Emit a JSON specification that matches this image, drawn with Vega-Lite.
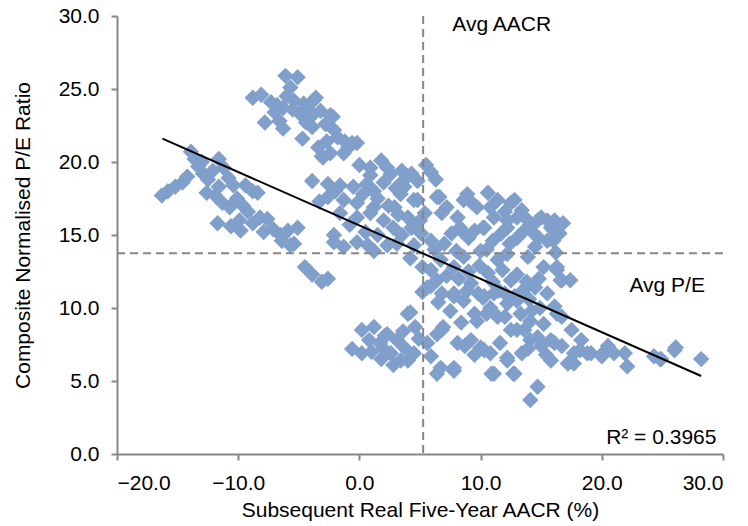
{
  "$schema": "https://vega.github.io/schema/vega-lite/v6.json",
  "width": 606,
  "height": 438,
  "autosize": "none",
  "padding": {"left": 117, "top": 16, "right": 25, "bottom": 72},
  "background": "white",
  "config": {
    "view": {"stroke": null},
    "font": "Liberation Sans",
    "axis": {
      "grid": false,
      "domainColor": "#868686",
      "domainWidth": 2,
      "tickColor": "#868686",
      "tickWidth": 2,
      "tickSize": 6,
      "labelFont": "Liberation Sans",
      "labelFontSize": 21,
      "labelColor": "#000000",
      "labelPadding": 12,
      "titleFont": "Liberation Sans",
      "titleFontSize": 21,
      "titleFontWeight": "normal",
      "titleColor": "#000000"
    }
  },
  "datasets": {
    "points": [
      {"aacr":-16.3,"pe":17.7},{"aacr":-15.8,"pe":18.0},{"aacr":-15.2,"pe":18.3},{"aacr":-14.6,"pe":18.6},{"aacr":-14.2,"pe":19.0},
      {"aacr":-13.9,"pe":20.7},{"aacr":-13.6,"pe":20.2},{"aacr":-13.3,"pe":19.7},{"aacr":-12.9,"pe":19.2},{"aacr":-12.5,"pe":18.8},
      {"aacr":-12.1,"pe":19.4},{"aacr":-11.6,"pe":20.2},{"aacr":-11.2,"pe":19.6},{"aacr":-10.8,"pe":18.9},{"aacr":-10.4,"pe":18.4},
      {"aacr":-11.6,"pe":18.3},{"aacr":-11.9,"pe":17.7},{"aacr":-11.3,"pe":17.2},{"aacr":-10.7,"pe":16.9},{"aacr":-10.1,"pe":17.5},
      {"aacr":-9.4,"pe":18.4},{"aacr":-8.8,"pe":18.0},{"aacr":-8.4,"pe":17.9},{"aacr":-9.2,"pe":16.6},{"aacr":-9.9,"pe":16.0},
      {"aacr":-11.7,"pe":15.8},{"aacr":-10.6,"pe":15.6},{"aacr":-9.8,"pe":15.3},{"aacr":-8.8,"pe":15.8},{"aacr":-8.2,"pe":16.2},
      {"aacr":-7.6,"pe":16.1},{"aacr":-7.9,"pe":15.2},{"aacr":-7.1,"pe":15.4},{"aacr":-6.5,"pe":15.0},{"aacr":-5.9,"pe":15.3},
      {"aacr":-5.7,"pe":14.3},{"aacr":-6.4,"pe":14.6},{"aacr":-12.6,"pe":17.9},{"aacr":-13.0,"pe":20.0},{"aacr":-9.6,"pe":17.0},
      {"aacr":-8.8,"pe":24.4},{"aacr":-8.1,"pe":24.6},{"aacr":-7.3,"pe":24.1},{"aacr":-7.8,"pe":22.7},{"aacr":-6.3,"pe":22.3},
      {"aacr":-6.1,"pe":25.9},{"aacr":-5.1,"pe":25.8},{"aacr":-5.7,"pe":25.1},{"aacr":-6.3,"pe":23.7},{"aacr":-5.4,"pe":24.2},
      {"aacr":-4.7,"pe":21.6},{"aacr":-3.8,"pe":24.2},{"aacr":-3.6,"pe":24.4},{"aacr":-3.2,"pe":23.5},{"aacr":-2.2,"pe":23.1},
      {"aacr":-2.1,"pe":22.2},{"aacr":-1.8,"pe":21.7},{"aacr":-3.4,"pe":21.0},{"aacr":-3.1,"pe":20.4},{"aacr":-2.4,"pe":20.6},
      {"aacr":-0.9,"pe":21.0},{"aacr":-0.2,"pe":21.3},{"aacr":-3.9,"pe":22.4},{"aacr":-4.9,"pe":23.3},{"aacr":-4.0,"pe":23.1},
      {"aacr":-2.4,"pe":23.2},{"aacr":-0.6,"pe":21.3},{"aacr":-1.3,"pe":20.6},{"aacr":-3.0,"pe":20.3},{"aacr":-5.5,"pe":23.6},
      {"aacr":-6.8,"pe":23.9},{"aacr":-4.4,"pe":22.7},{"aacr":-7.0,"pe":23.4},{"aacr":-6.0,"pe":24.5},{"aacr":-4.6,"pe":24.0},
      {"aacr":-4.2,"pe":23.6},{"aacr":-2.8,"pe":22.6},{"aacr":-1.2,"pe":21.4},{"aacr":-2.7,"pe":21.4},{"aacr":-6.6,"pe":22.8},
      {"aacr":-3.9,"pe":18.7},{"aacr":-2.6,"pe":18.5},{"aacr":-1.6,"pe":18.4},{"aacr":-0.5,"pe":18.3},{"aacr":0.6,"pe":18.5},
      {"aacr":-2.6,"pe":17.6},{"aacr":-1.3,"pe":17.4},{"aacr":-0.2,"pe":17.2},{"aacr":0.9,"pe":19.6},{"aacr":0.9,"pe":19.1},
      {"aacr":2.6,"pe":19.2},{"aacr":3.6,"pe":18.7},{"aacr":3.4,"pe":17.8},{"aacr":4.8,"pe":17.4},{"aacr":4.8,"pe":18.7},
      {"aacr":-1.6,"pe":16.5},{"aacr":-0.2,"pe":16.2},{"aacr":0.9,"pe":16.5},{"aacr":2.0,"pe":16.0},{"aacr":2.8,"pe":15.5},
      {"aacr":4.0,"pe":16.2},{"aacr":5.0,"pe":16.0},{"aacr":-5.1,"pe":15.5},{"aacr":-2.1,"pe":15.0},{"aacr":-3.3,"pe":17.3},
      {"aacr":-2.0,"pe":18.0},{"aacr":1.5,"pe":17.5},{"aacr":2.4,"pe":17.0},{"aacr":0.3,"pe":17.8},{"aacr":-0.8,"pe":15.7},
      {"aacr":0.5,"pe":15.2},{"aacr":1.5,"pe":15.0},{"aacr":3.5,"pe":15.0},{"aacr":4.3,"pe":15.5},{"aacr":0.0,"pe":19.8},
      {"aacr":1.2,"pe":18.0},{"aacr":2.0,"pe":18.6},{"aacr":3.0,"pe":18.2},{"aacr":1.2,"pe":16.9},{"aacr":3.2,"pe":16.4},
      {"aacr":-5.4,"pe":14.4},{"aacr":-2.1,"pe":14.5},{"aacr":-1.3,"pe":14.2},{"aacr":-0.2,"pe":14.5},{"aacr":0.7,"pe":14.3},
      {"aacr":1.2,"pe":13.9},{"aacr":2.3,"pe":14.3},{"aacr":3.1,"pe":14.4},{"aacr":4.5,"pe":14.3},{"aacr":4.2,"pe":13.4},
      {"aacr":5.2,"pe":12.8},{"aacr":5.6,"pe":11.4},{"aacr":5.2,"pe":11.1},{"aacr":-4.5,"pe":12.8},{"aacr":-3.9,"pe":12.3},
      {"aacr":-3.1,"pe":11.8},{"aacr":-2.6,"pe":12.0},
      {"aacr":1.8,"pe":20.1},{"aacr":2.3,"pe":19.6},{"aacr":3.5,"pe":19.4},{"aacr":4.3,"pe":19.2},{"aacr":6.6,"pe":17.6},
      {"aacr":6.8,"pe":16.5},{"aacr":3.7,"pe":18.3},{"aacr":2.9,"pe":16.9},{"aacr":4.5,"pe":17.4},{"aacr":5.4,"pe":16.5},
      {"aacr":5.1,"pe":15.1},{"aacr":5.9,"pe":14.6},{"aacr":8.4,"pe":15.3},{"aacr":8.9,"pe":17.8},{"aacr":10.6,"pe":17.9},
      {"aacr":9.7,"pe":16.9},{"aacr":12.8,"pe":17.4},{"aacr":13.4,"pe":16.7},{"aacr":11.1,"pe":16.2},{"aacr":11.7,"pe":15.1},
      {"aacr":15.0,"pe":16.2},{"aacr":16.1,"pe":16.0},{"aacr":16.5,"pe":15.1},{"aacr":14.4,"pe":15.1},{"aacr":15.5,"pe":14.6},
      {"aacr":7.6,"pe":15.1},{"aacr":8.1,"pe":16.2},{"aacr":13.9,"pe":16.0},{"aacr":12.2,"pe":15.5},{"aacr":9.5,"pe":15.3},
      {"aacr":10.3,"pe":15.5},{"aacr":6.4,"pe":17.6},{"aacr":8.6,"pe":17.4},{"aacr":10.8,"pe":16.9},{"aacr":12.5,"pe":17.2},
      {"aacr":13.0,"pe":16.2},{"aacr":14.7,"pe":16.0},{"aacr":15.5,"pe":16.0},{"aacr":8.3,"pe":15.5},{"aacr":10.2,"pe":15.5},
      {"aacr":12.2,"pe":16.0},{"aacr":5.5,"pe":19.8},{"aacr":5.9,"pe":19.3},{"aacr":6.3,"pe":18.8},{"aacr":7.2,"pe":16.9},
      {"aacr":9.3,"pe":17.2},{"aacr":11.4,"pe":17.4},{"aacr":12.0,"pe":16.6},{"aacr":14.2,"pe":15.6},{"aacr":16.0,"pe":14.6},
      {"aacr":13.0,"pe":14.8},{"aacr":11.0,"pe":14.6},{"aacr":9.0,"pe":14.8},{"aacr":7.0,"pe":14.4},{"aacr":6.2,"pe":14.0},
      {"aacr":14.5,"pe":14.2},{"aacr":16.8,"pe":15.8},{"aacr":15.8,"pe":15.5},{"aacr":14.8,"pe":14.8},{"aacr":13.6,"pe":15.3},
      {"aacr":16.2,"pe":13.8},{"aacr":12.4,"pe":14.4},{"aacr":10.5,"pe":14.0},{"aacr":8.0,"pe":13.9},
      {"aacr":6.7,"pe":13.3},{"aacr":7.8,"pe":12.8},{"aacr":8.6,"pe":13.5},{"aacr":10.0,"pe":13.9},{"aacr":11.4,"pe":13.3},
      {"aacr":12.2,"pe":13.7},{"aacr":13.9,"pe":13.5},{"aacr":16.3,"pe":12.6},{"aacr":16.6,"pe":11.9},{"aacr":6.4,"pe":11.9},
      {"aacr":7.8,"pe":11.0},{"aacr":8.6,"pe":10.5},{"aacr":10.2,"pe":10.7},{"aacr":10.8,"pe":10.0},{"aacr":12.2,"pe":10.3},
      {"aacr":13.3,"pe":9.6},{"aacr":14.1,"pe":9.1},{"aacr":15.2,"pe":8.9},{"aacr":16.3,"pe":9.6},{"aacr":13.0,"pe":8.5},
      {"aacr":14.1,"pe":7.8},{"aacr":15.8,"pe":7.8},{"aacr":6.4,"pe":8.2},{"aacr":6.9,"pe":8.7},{"aacr":8.1,"pe":7.6},
      {"aacr":9.2,"pe":7.8},{"aacr":10.0,"pe":7.3},{"aacr":10.8,"pe":6.9},{"aacr":12.2,"pe":6.6},{"aacr":6.7,"pe":5.9},
      {"aacr":7.8,"pe":5.9},{"aacr":11.1,"pe":5.5},{"aacr":12.7,"pe":5.5},{"aacr":14.7,"pe":4.6},{"aacr":14.1,"pe":3.7},
      {"aacr":9.7,"pe":9.1},{"aacr":11.4,"pe":9.4},{"aacr":14.9,"pe":10.0},{"aacr":15.5,"pe":11.0},{"aacr":13.5,"pe":11.2},
      {"aacr":12.5,"pe":11.9},{"aacr":10.6,"pe":12.4},{"aacr":9.2,"pe":11.7},{"aacr":9.0,"pe":12.5},{"aacr":7.2,"pe":12.2},
      {"aacr":8.2,"pe":12.0},{"aacr":11.8,"pe":12.6},{"aacr":13.0,"pe":12.3},{"aacr":14.8,"pe":12.0},{"aacr":15.2,"pe":12.8},
      {"aacr":9.8,"pe":11.0},{"aacr":11.5,"pe":11.2},{"aacr":12.8,"pe":10.8},{"aacr":14.0,"pe":10.6},{"aacr":5.9,"pe":12.6},
      {"aacr":6.5,"pe":10.4},{"aacr":7.5,"pe":9.8},{"aacr":9.9,"pe":12.9},{"aacr":11.0,"pe":11.8},{"aacr":12.0,"pe":11.0},
      {"aacr":13.8,"pe":11.8},{"aacr":14.5,"pe":11.4},{"aacr":10.5,"pe":9.6},{"aacr":8.4,"pe":9.0},
      {"aacr":0.2,"pe":8.5},{"aacr":1.2,"pe":8.7},{"aacr":2.3,"pe":8.2},{"aacr":3.1,"pe":7.8},{"aacr":3.4,"pe":6.4},
      {"aacr":2.8,"pe":6.1},{"aacr":0.2,"pe":6.9},{"aacr":-0.6,"pe":7.2},{"aacr":1.7,"pe":7.6},{"aacr":2.6,"pe":6.9},
      {"aacr":4.0,"pe":6.4},{"aacr":4.5,"pe":6.9},{"aacr":4.2,"pe":9.7},{"aacr":4.6,"pe":8.7},{"aacr":2.1,"pe":8.1},
      {"aacr":4.0,"pe":9.6},{"aacr":5.6,"pe":7.6},{"aacr":6.8,"pe":8.5},{"aacr":6.4,"pe":5.5},{"aacr":7.8,"pe":5.7},
      {"aacr":8.7,"pe":7.4},{"aacr":10.3,"pe":7.1},{"aacr":10.9,"pe":5.5},{"aacr":12.2,"pe":6.4},{"aacr":12.8,"pe":5.5},
      {"aacr":13.4,"pe":6.9},{"aacr":15.0,"pe":7.4},{"aacr":16.7,"pe":7.4},{"aacr":17.7,"pe":6.9},{"aacr":18.8,"pe":6.9},
      {"aacr":20.0,"pe":6.7},{"aacr":21.0,"pe":6.9},{"aacr":21.9,"pe":6.9},{"aacr":22.1,"pe":6.0},{"aacr":24.3,"pe":6.7},
      {"aacr":24.9,"pe":6.5},{"aacr":26.0,"pe":7.1},{"aacr":28.2,"pe":6.5},{"aacr":17.5,"pe":8.5},{"aacr":16.7,"pe":9.4},
      {"aacr":16.1,"pe":10.1},{"aacr":14.2,"pe":9.8},{"aacr":13.0,"pe":10.5},{"aacr":11.1,"pe":11.0},{"aacr":10.3,"pe":10.8},
      {"aacr":16.7,"pe":11.9},{"aacr":16.3,"pe":12.8},{"aacr":5.9,"pe":11.5},{"aacr":6.8,"pe":11.0},{"aacr":7.8,"pe":10.8},
      {"aacr":8.9,"pe":11.2},{"aacr":9.5,"pe":9.6},{"aacr":12.0,"pe":9.4},{"aacr":12.5,"pe":8.5},{"aacr":13.6,"pe":8.5},
      {"aacr":14.7,"pe":8.0},{"aacr":16.1,"pe":7.6},{"aacr":18.3,"pe":7.8},{"aacr":20.5,"pe":7.4},{"aacr":17.2,"pe":6.2},
      {"aacr":15.8,"pe":6.4},{"aacr":18.2,"pe":7.1},{"aacr":19.1,"pe":6.9},{"aacr":20.1,"pe":6.9},{"aacr":24.8,"pe":6.5},
      {"aacr":26.1,"pe":7.3},{"aacr":17.4,"pe":11.9},{"aacr":17.7,"pe":6.2},{"aacr":1.0,"pe":7.0},{"aacr":3.7,"pe":7.3},
      {"aacr":0.8,"pe":7.8},{"aacr":1.8,"pe":6.5},{"aacr":3.6,"pe":8.4},{"aacr":2.0,"pe":7.2},{"aacr":4.9,"pe":7.9},
      {"aacr":5.9,"pe":6.7},{"aacr":9.5,"pe":6.8},{"aacr":11.6,"pe":7.6},{"aacr":13.9,"pe":7.2},{"aacr":15.4,"pe":6.8}
    ],
    "trend": [
      {"aacr": -16.25, "pe": 21.6},
      {"aacr": 28.2, "pe": 5.34}
    ],
    "one": [{"k": 1}]
  },
  "layer": [
    {
      "data": {"name": "points"},
      "mark": {"type": "point", "shape": "diamond", "filled": true, "size": 270, "color": "#809fcb", "opacity": 1, "strokeWidth": 0},
      "encoding": {
        "x": {
          "field": "aacr", "type": "quantitative",
          "scale": {"domain": [-20, 30], "nice": false, "zero": false},
          "axis": {"values": [-20, -10, 0, 10, 20, 30], "format": ".1f", "title": "Subsequent Real Five-Year AACR (%)", "titlePadding": 6}
        },
        "y": {
          "field": "pe", "type": "quantitative",
          "scale": {"domain": [0, 30], "nice": false, "zero": false},
          "axis": {"values": [0, 5, 10, 15, 20, 25, 30], "format": ".1f", "title": "Composite Normalised P/E Ratio", "titlePadding": 25}
        }
      }
    },
    {
      "data": {"name": "one"},
      "mark": {"type": "rule", "color": "#868686", "strokeWidth": 2, "strokeDash": [8, 5]},
      "encoding": {"x": {"datum": 5.26, "type": "quantitative"}}
    },
    {
      "data": {"name": "one"},
      "mark": {"type": "rule", "color": "#868686", "strokeWidth": 2, "strokeDash": [8, 5]},
      "encoding": {"y": {"datum": 13.75, "type": "quantitative"}}
    },
    {
      "data": {"name": "trend"},
      "mark": {"type": "line", "color": "#000000", "strokeWidth": 2},
      "encoding": {
        "x": {"field": "aacr", "type": "quantitative"},
        "y": {"field": "pe", "type": "quantitative"}
      }
    },
    {
      "data": {"name": "one"},
      "mark": {"type": "text", "align": "left", "baseline": "middle", "fontSize": 21, "font": "Liberation Sans", "color": "#000000"},
      "encoding": {
        "x": {"datum": 7.67, "type": "quantitative"},
        "y": {"datum": 29.4, "type": "quantitative"},
        "text": {"value": "Avg AACR"}
      }
    },
    {
      "data": {"name": "one"},
      "mark": {"type": "text", "align": "left", "baseline": "middle", "fontSize": 21, "font": "Liberation Sans", "color": "#000000"},
      "encoding": {
        "x": {"datum": 22.28, "type": "quantitative"},
        "y": {"datum": 11.5, "type": "quantitative"},
        "text": {"value": "Avg P/E"}
      }
    },
    {
      "data": {"name": "one"},
      "mark": {"type": "text", "align": "right", "baseline": "middle", "fontSize": 21, "font": "Liberation Sans", "color": "#000000"},
      "encoding": {
        "x": {"datum": 29.46, "type": "quantitative"},
        "y": {"datum": 1.08, "type": "quantitative"},
        "text": {"value": "R² = 0.3965"}
      }
    }
  ]
}
